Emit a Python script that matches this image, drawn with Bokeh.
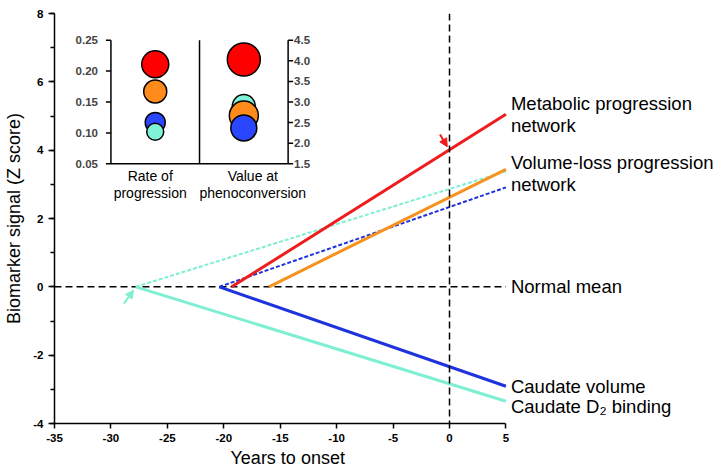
import numpy as np
from bokeh.plotting import figure
from bokeh.models import (Range1d, FixedTicker, Span, Label, LabelSet, Arrow,
                          NormalHead, ColumnDataSource, Title)
from bokeh.core.properties import value
from bokeh.embed import file_html
from bokeh.resources import INLINE

# ---------------- data ----------------
x_ticks = [-35, -30, -25, -20, -15, -10, -5, 0, 5]
y_ticks = [-4, -2, 0, 2, 4, 6, 8]
y_minor = [-4, -3, -2, -1, 0, 1, 2, 3, 4, 5, 6, 7, 8]

# series order: metabolic, volume-loss, caudate volume, caudate D2
series_names = ["Metabolic progression network", "Volume-loss progression network",
                "Caudate volume", "Caudate D2 binding"]
line_colors = ["#ee1c1c", "#f7921e", "#1f33dc", "#7eefd2"]
circle_colors = ["#ff0000", "#ff8c1a", "#2a46ff", "#80f2d6"]

# solid lines: start on the normal mean, end at +5 years
solid_start_x = [-19.3, -16.0, -20.4, -27.8]
solid_end_x = [5, 5, 5, 5]
solid_end_y = [5.05, 3.44, -2.91, -3.35]

# dashed mirror lines (caudate volume, caudate D2)
dashed_start_x = [-20.4, -27.8]
dashed_end_x = [5, 5]
dashed_end_y = [2.91, 3.38]
dashed_colors = ["#1f33dc", "#7eefd2"]

# inset values
rate_of_progression = [0.211, 0.167, 0.117, 0.102]
value_at_phenoconversion = [4.03, 2.67, 2.37, 2.90]
rate_ticks = [0.05, 0.10, 0.15, 0.20, 0.25]
value_ticks = [1.5, 2.0, 2.5, 3.0, 3.5, 4.0, 4.5]
inset_categories = ["Rate of\nprogression", "Value at\nphenoconversion"]

# right-hand labels
right_labels = ["Metabolic progression\nnetwork", "Volume-loss progression\nnetwork",
                "Normal mean", "Caudate volume", "Caudate D\u2082 binding"]
right_label_y = [5.05, 3.32, 0.0, -2.92, -3.51]

# arrows (tail -> tip, data units)
arrow_tail_x = [-0.84, -28.86]
arrow_tail_y = [4.46, -0.49]
arrow_tip_x = [-0.2, -28.0]
arrow_tip_y = [4.1, -0.1]
arrow_colors = ["#ee1c1c", "#7eefd2"]

# ---------------- style / layout ----------------
FONT = "Liberation Sans"
X_AXIS = (-35, 5)
X_VIEW = (-35, 24.1)      # frame extends right to hold the line labels
Y_RANGE = (-4, 8)
rate_sizes = [27, 23, 20, 17]
value_sizes = [33, 29, 26, 23]
rate_order = [0, 1, 2, 3]
value_order = [0, 3, 1, 2]
inset_box_x = (-30.0, -14.3)   # main-chart units
inset_box_y = (3.6, 7.22)
cat_x_offsets = [-5, 9]

p = figure(width=723, height=472,
           x_range=Range1d(*X_VIEW), y_range=Range1d(*Y_RANGE),
           output_backend="svg", toolbar_location=None,
           min_border_left=54, min_border_right=2,
           min_border_top=13, min_border_bottom=49)
p.outline_line_color = None
p.grid.visible = False
p.background_fill_color = "white"
p.border_fill_color = "white"

# axes
p.xaxis.ticker = FixedTicker(ticks=x_ticks)
p.yaxis.ticker = FixedTicker(ticks=y_ticks, minor_ticks=y_minor)
p.xaxis.bounds = X_AXIS
p.xaxis.major_label_overrides = {t: str(t) for t in x_ticks}
p.yaxis.major_label_overrides = {t: str(t) for t in y_ticks}
for ax in (p.xaxis[0], p.yaxis[0]):
    ax.axis_line_width = 1.5
    ax.major_tick_line_width = 1.5
    ax.minor_tick_line_width = 1.5
    ax.major_tick_in = 0
    ax.major_tick_out = 6
    ax.minor_tick_in = 0
    ax.minor_tick_out = 4
    ax.major_label_text_font = FONT
    ax.major_label_text_font_style = "bold"
    ax.major_label_text_font_size = "11.5px"
    ax.major_label_text_color = "black"
    ax.axis_label_text_font = FONT
    ax.axis_label_text_font_style = "normal"
    ax.axis_label_text_font_size = "18px"
    ax.axis_label_text_color = "black"
p.xaxis.major_tick_out = 5
p.xaxis.minor_tick_line_color = None
p.xaxis.major_label_standoff = 5
p.yaxis.major_label_standoff = 5
p.yaxis.axis_label = "Biomarker signal (Z score)"
p.yaxis.axis_label_standoff = 6

# x-axis title placed under the axis span (-35..5) rather than the whole frame
p.add_layout(Title(text="Years to onset", align="left", offset=176,
                   text_font=FONT, text_font_size="18px", text_font_style="normal",
                   text_color="black", standoff=2), "below")

# reference lines
p.segment(x0=[X_AXIS[0]], y0=[0], x1=[X_AXIS[1]], y1=[0], line_color="black",
          line_width=1.5, line_dash="7 4")
p.add_layout(Span(location=0, dimension="height", line_color="black",
                  line_width=1.5, line_dash="7 4"))

# dashed coloured lines
dsrc = ColumnDataSource(dict(x0=dashed_start_x, y0=[0] * len(dashed_start_x),
                             x1=dashed_end_x, y1=dashed_end_y, c=dashed_colors))
p.segment(x0="x0", y0="y0", x1="x1", y1="y1", source=dsrc, line_color="c",
          line_width=2, line_dash="4 2")

# solid coloured lines (draw D2, volume, orange, red so red is on top)
order = [3, 2, 1, 0]
ssrc = ColumnDataSource(dict(x0=[solid_start_x[i] for i in order],
                             y0=[0] * 4,
                             x1=[solid_end_x[i] for i in order],
                             y1=[solid_end_y[i] for i in order],
                             c=[line_colors[i] for i in order]))
p.segment(x0="x0", y0="y0", x1="x1", y1="y1", source=ssrc, line_color="c",
          line_width=3)

# arrows
for tx, ty, hx, hy, c in zip(arrow_tail_x, arrow_tail_y, arrow_tip_x, arrow_tip_y, arrow_colors):
    p.add_layout(Arrow(end=NormalHead(size=8, fill_color=c, line_color=c),
                       x_start=tx, y_start=ty, x_end=hx, y_end=hy,
                       line_color=c, line_width=2))

# right-hand labels
for txt, yv in zip(right_labels, right_label_y):
    lines = txt.split("\n")
    n = len(lines)
    for k, ln in enumerate(lines):
        off = ((n - 1) / 2 - k) * 21.6
        p.add_layout(Label(x=X_AXIS[1], y=yv, x_offset=5, y_offset=off, text=ln,
                           text_font=FONT, text_font_size="18.5px",
                           text_baseline="middle", text_align="left",
                           text_color="black"))

# ---------------- inset (drawn through extra ranges) ----------------
def inset_range(main, box, dom):
    s = (dom[1] - dom[0]) / (box[1] - box[0])
    return Range1d(dom[0] - (box[0] - main[0]) * s, dom[1] + (main[1] - box[1]) * s)

p.extra_x_ranges = {"ix": inset_range(X_VIEW, inset_box_x, (0, 2))}
p.extra_y_ranges = {"irate": inset_range(Y_RANGE, inset_box_y, (rate_ticks[0], rate_ticks[-1])),
                    "ival": inset_range(Y_RANGE, inset_box_y, (value_ticks[0], value_ticks[-1]))}

lo, hi = rate_ticks[0], rate_ticks[-1]
p.segment(x0=[0, 1, 2, 0], y0=[lo, lo, lo, lo], x1=[0, 1, 2, 2], y1=[hi, hi, hi, lo],
          x_range_name="ix", y_range_name="irate", line_color="black", line_width=1.5)
p.ray(x=[0] * len(rate_ticks), y=rate_ticks, length=5, length_units="screen",
      angle=np.pi, x_range_name="ix", y_range_name="irate",
      line_color="black", line_width=1.5)
p.ray(x=[2] * len(value_ticks), y=value_ticks, length=5, length_units="screen",
      angle=0, x_range_name="ix", y_range_name="ival",
      line_color="black", line_width=1.5)

rl = ColumnDataSource(dict(x=[0] * len(rate_ticks), y=rate_ticks,
                           t=["%.2f" % v for v in rate_ticks]))
p.add_layout(LabelSet(x="x", y="y", text="t", source=rl, x_range_name="ix",
                      y_range_name="irate", x_offset=-13, text_align="right",
                      text_baseline="middle", text_font=value(FONT),
                      text_font_style="bold", text_font_size="11.5px"))
vl = ColumnDataSource(dict(x=[2] * len(value_ticks), y=value_ticks,
                           t=["%.1f" % v for v in value_ticks]))
p.add_layout(LabelSet(x="x", y="y", text="t", source=vl, x_range_name="ix",
                      y_range_name="ival", x_offset=6, text_align="left",
                      text_baseline="middle", text_font=value(FONT),
                      text_font_style="bold", text_font_size="11.5px"))

# circles
rsrc = ColumnDataSource(dict(x=[0.5] * 4, y=[rate_of_progression[i] for i in rate_order],
                             s=[rate_sizes[i] for i in rate_order],
                             c=[circle_colors[i] for i in rate_order]))
p.scatter(x="x", y="y", size="s", fill_color="c", line_color="black", line_width=1.5,
          source=rsrc, x_range_name="ix", y_range_name="irate")
vsrc = ColumnDataSource(dict(x=[1.5] * 4, y=[value_at_phenoconversion[i] for i in value_order],
                             s=[value_sizes[i] for i in value_order],
                             c=[circle_colors[i] for i in value_order]))
p.scatter(x="x", y="y", size="s", fill_color="c", line_color="black", line_width=1.5,
          source=vsrc, x_range_name="ix", y_range_name="ival")

# category labels under the inset
for k, cat in enumerate(inset_categories):
    for j, ln in enumerate(cat.split("\n")):
        p.add_layout(Label(x=k + 0.5, y=lo, x_range_name="ix", y_range_name="irate",
                           x_offset=cat_x_offsets[k], y_offset=-12.5 - 16.7 * j,
                           text=ln, text_font=FONT,
                           text_font_size="14px", text_align="center",
                           text_baseline="middle", text_color="black"))

open("out.html", "w").write(file_html(p, INLINE))
